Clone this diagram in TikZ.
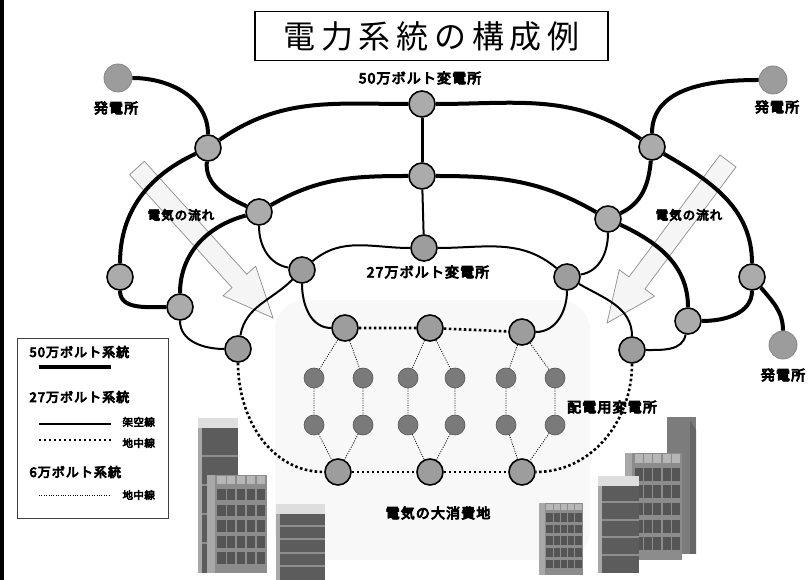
\documentclass[tikz,border=0pt]{standalone}
\usepackage{fontspec}
\newfontfamily\jptitle[LetterSpace=18]{Noto Sans CJK JP}
\newfontfamily\jplbl[FakeBold=6,LetterSpace=8]{Noto Sans CJK JP}
\newfontfamily\jpsmall[FakeBold=5,LetterSpace=4]{Noto Sans CJK JP}

\definecolor{gengray}{HTML}{9C9C9C}
\definecolor{ssgray}{HTML}{ABABAB}
\definecolor{sstgray}{HTML}{9D9D9D}
\definecolor{dgray}{HTML}{7A7A7A}
\definecolor{areagray}{HTML}{F8F8F8}
\definecolor{flowfill}{HTML}{F5F5F5}
\definecolor{winbg}{HTML}{8C8C8C}
\definecolor{winedge}{HTML}{A8A8A8}
\definecolor{wintop}{HTML}{B6B6B6}
\definecolor{windark}{HTML}{555555}
\definecolor{slabdark}{HTML}{5C5C5C}
\definecolor{slabcap}{HTML}{DEDEDE}
\definecolor{slabline}{HTML}{8E8E8E}
\definecolor{towergray}{HTML}{7C7C7C}
\definecolor{towerside}{HTML}{666666}

\tikzset{
  gen/.style={circle,inner sep=0pt,minimum size=28pt,fill=gengray,draw=gengray!85!black,line width=0.8pt},
  ss50/.style={circle,inner sep=0pt,minimum size=26pt,fill=ssgray,draw=black,line width=1.6pt},
  ss27/.style={ss50,fill=sstgray},
  dss/.style={circle,inner sep=0pt,minimum size=20pt,fill=dgray,draw=dgray!70!black,line width=0.6pt},
  kv500/.style={line width=4pt},
  kv275/.style={line width=2pt},
  kv275u/.style={line width=2.6pt,dash pattern=on 2.6pt off 2.4pt},
  kv66/.style={line width=0.8pt,dash pattern=on 1pt off 1.4pt},
  lbl/.style={font=\jplbl\fontsize{14}{16}\selectfont},
  flowlbl/.style={font=\jplbl\fontsize{12.5}{14}\selectfont},
  keylbl/.style={font=\jplbl\fontsize{13}{15}\selectfont,anchor=west},
  keysmall/.style={font=\jpsmall\fontsize{10.5}{12}\selectfont,anchor=west},
  flow/.style={fill=flowfill,draw=black!45,line width=0.7pt,line join=miter}
}

% office block with window grid: left, bottom, width, height
\newcommand{\officeblock}[4]{%
  \begin{scope}[shift={(#1,#2)},x=#3pt,y=#4pt]
    \fill[winbg] (0,0) rectangle (1,1);
    \fill[winedge] (0,0) rectangle (0.13,1);
    \foreach \i in {0,...,4}
      \fill[wintop] ({0.17+\i*0.164},0.905) rectangle +(0.14,0.085);
    \foreach \i in {0,...,4}
      \foreach \j in {0,...,4}
        \fill[windark] ({0.17+\i*0.164},{0.74-\j*0.162}) rectangle +(0.14,0.12);
  \end{scope}}

% plain block with floor bands: left, bottom, width, height
\newcommand{\slabblock}[4]{%
  \begin{scope}[shift={(#1,#2)}]
    \fill[slabdark] (0,0) rectangle (#3,#4);
    \fill[slabcap] (0,{#4-10}) rectangle (#3,#4);
    \fill[winedge] (0,0) rectangle (4,{#4-10});
    \foreach \k in {1,...,4}
      \fill[slabline] (4,{(#4-10)*\k/5}) rectangle (#3,{(#4-10)*\k/5+2});
  \end{scope}}

\begin{document}
\begin{tikzpicture}[x=1pt,y=1pt]
\useasboundingbox (0,0) rectangle (810,580);
\fill[black] (0,0) rectangle (3.5,580);

% consumer area
\fill[areagray,rounded corners=30pt] (275,20) rectangle (590,280);

% title
\node[draw,line width=1.2pt,minimum width=353pt,minimum height=49pt,inner sep=0pt,
  font=\jptitle\fontsize{32}{36}\selectfont] (title) at (431.5,544) {電力系統の構成例};

% flow arrows
\draw[flow] (144.4,418.7) -- (246.8,305.7) -- (255.7,313.8) -- (273,262)
  -- (223.1,284.2) -- (232,292.3) -- (129.6,405.3) -- cycle;
\draw[flow] (736,413) -- (644.9,291) -- (654.5,283.8) -- (607,257)
  -- (619.3,310.2) -- (628.9,303) -- (720,425) -- cycle;
\node[flowlbl] (flowL) at (181,365) {電気の流れ};
\node[flowlbl] (flowR) at (689,365) {電気の流れ};

% buildings
\slabblock{198}{7}{40}{155}
\officeblock{207}{7}{60}{98}
\slabblock{276}{0}{49}{76}
\fill[towergray] (667,26) rectangle (696,163);
\fill[towerside] (690,26) -- (690,160) -- (696,150) -- (696,26) -- cycle;
\officeblock{625}{20}{57}{107}
\slabblock{598}{7}{41}{97}
\officeblock{539}{5}{44}{72}

% generators
\node[gen] (gL) at (118,502) {};
\node[gen] (gR) at (773,500) {};
\node[gen] (gB) at (783,235) {};
\node[lbl] (gLt) at (116,472) {発電所};
\node[lbl] (gRt) at (777,473) {発電所};
\node[lbl] (gBt) at (783,205) {発電所};

% 500 kV substations
\node[ss50] (t1) at (422,476) {};
\node[ss50] (t2) at (422,404) {};
\node[ss50] (a1) at (208,432) {};
\node[ss50] (b1) at (259,368) {};
\node[ss50] (l1) at (120,303) {};
\node[ss50] (l2) at (180,273) {};
\node[ss50] (a2) at (652,433) {};
\node[ss50] (b2) at (608,361) {};
\node[ss50] (r1) at (752,303) {};
\node[ss50] (r2) at (688,259) {};
\node[lbl] (t1t) at (420,502) {50万ボルト変電所};

% 275 kV substations
\node[ss27] (t3) at (424,332) {};
\node[ss27] (c1) at (302,310) {};
\node[ss27] (e1) at (238,231) {};
\node[ss27] (c2) at (567,303) {};
\node[ss27] (e2) at (632,230) {};
\node[lbl] (t3t) at (428,308) {27万ボルト変電所};

% distribution substations
\node[ss27] (d1) at (345,252) {};
\node[ss27] (d2) at (430,252) {};
\node[ss27] (d3) at (522,248) {};
\node[ss27] (f1) at (338,108) {};
\node[ss27] (f2) at (430,108) {};
\node[ss27] (f3) at (522,108) {};
\node[lbl] (dst) at (612,173) {配電用変電所};
\node[lbl] (area) at (438,67) {電気の大消費地};

% 66 kV
\foreach \g/\xa/\xb in {d1/314/363, d2/408/455, d3/506/555}{
  \node[dss] (\g u1) at (\xa,202) {};
  \node[dss] (\g u2) at (\xb,202) {};
  \node[dss] (\g l1) at (\xa,155) {};
  \node[dss] (\g l2) at (\xb,155) {};
}
\foreach \g/\h in {d1/f1, d2/f2, d3/f3}{
  \draw[kv66] (\g) -- (\g u1) -- (\g l1) -- (\h);
  \draw[kv66] (\g) -- (\g u2) -- (\g l2) -- (\h);
}

% 500 kV lines
\draw[kv500] (gL) to[out=0,in=90] (a1);
\draw[kv500] (a1) to[out=35,in=180] (t1);
\draw[kv500] (a1) to[out=205,in=90] (l1);
\draw[kv500] (a1) to[out=-95,in=155] (b1);
\draw[kv500] (b1) to[out=30,in=180] (t2);
\draw[kv500] (b1) to[out=195,in=90] (l2);
\draw[kv500] (l1) to[out=-90,in=180] (l2);
\draw[kv500,line width=3pt] (t1) -- (t2);
\draw[kv500] (gR) to[out=180,in=90] (a2);
\draw[kv500] (a2) to[out=145,in=0] (t1);
\draw[kv500] (a2) to[out=-30,in=90] (r1);
\draw[kv500] (a2) to[out=-95,in=25] (b2);
\draw[kv500] (b2) to[out=150,in=0] (t2);
\draw[kv500] (b2) to[out=-25,in=90] (r2);
\draw[kv500] (r1) to[out=-90,in=0] (r2);
\draw[kv500] (r1) to[out=-50,in=90] (gB);

% 275 kV overhead
\draw[kv275] (t2) -- (t3);
\draw[kv275] (b1) to[out=-90,in=170] (c1);
\draw[kv275] (c1) to[out=40,in=180] (t3);
\draw[kv275] (c1) to[out=-90,in=180] (d1);
\draw[kv275] (c1) to[out=225,in=80] (e1);
\draw[kv275] (l2) to[out=-90,in=180] (e1);
\draw[kv275] (b2) to[out=-90,in=10] (c2);
\draw[kv275] (c2) to[out=140,in=0] (t3);
\draw[kv275] (c2) to[out=-90,in=0] (d3);
\draw[kv275] (c2) to[out=-30,in=90] (e2);
\draw[kv275] (r2) to[out=-100,in=0] (e2);

% 275 kV underground
\draw[kv275u] (d1) -- (d2) -- (d3);
\draw[kv275u] (f1) -- (f2) -- (f3);
\draw[kv275u] (e1) to[out=-90,in=180] (f1);
\draw[kv275u] (e2) to[out=-90,in=0] (f3);

% key
\draw[black!75,line width=0.8pt] (17,62) rectangle (168,242);
\node[keylbl] (k50) at (26,228) {50万ボルト系統};
\coordinate (k50a) at (39,213);
\coordinate (k50b) at (111,213);
\draw[kv500] (k50a) -- (k50b);
\node[keylbl] (k27) at (26,183) {27万ボルト系統};
\coordinate (k27a) at (39,156);
\coordinate (k27b) at (111,156);
\draw[kv275] (k27a) -- (k27b);
\node[keysmall] (k27o) at (119,158) {架空線};
\coordinate (k27c) at (39,140);
\coordinate (k27d) at (111,140);
\draw[kv275u,line width=2pt,dash pattern=on 2pt off 3pt] (k27c) -- (k27d);
\node[keysmall] (k27u) at (119,137) {地中線};
\node[keylbl] (k6) at (26,108) {6万ボルト系統};
\coordinate (k6a) at (39,85);
\coordinate (k6b) at (111,85);
\draw[kv66] (k6a) -- (k6b);
\node[keysmall] (k6u) at (119,85) {地中線};
\end{tikzpicture}
\end{document}
